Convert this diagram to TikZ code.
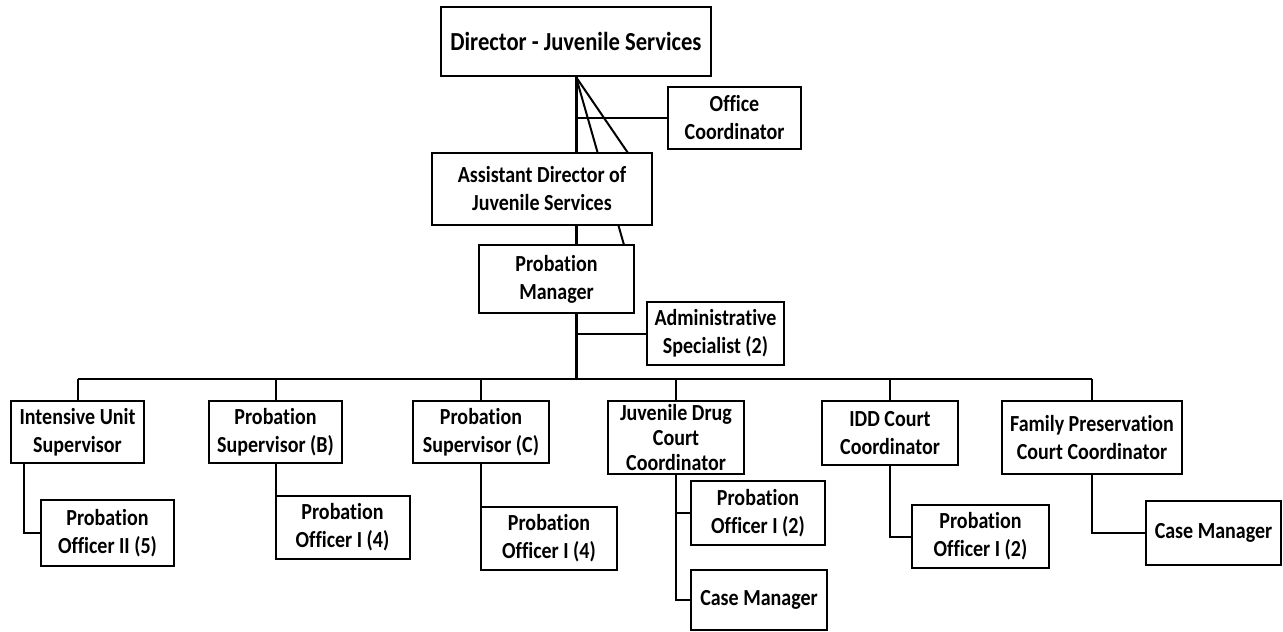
\documentclass[tikz,border=0pt]{standalone}
\usepackage{fontspec}
\setmainfont{Carlito}[FakeStretch=0.87, Ligatures={NoCommon}]
\usetikzlibrary{backgrounds}
\begin{document}
\begin{tikzpicture}[x=1pt,y=-1pt,
  box/.style={draw=black, line width=2pt, fill=white, align=center, inner sep=0pt,
    font=\fontsize{23}{28}\selectfont\bfseries},
  link/.style={line width=2pt, draw=black},
  trunk/.style={line width=3pt, draw=black}]
\useasboundingbox (0,0) rectangle (1283,632);

% top of the chart
\node[box, minimum width=270pt, minimum height=69pt, font=\fontsize{26}{30}\selectfont\bfseries] (dir) at (576,41.5) {Director - Juvenile Services};
\node[box, minimum width=133pt, minimum height=62pt] (office) at (734.5,118) {Office\\Coordinator};
\node[box, minimum width=220pt, minimum height=72pt] (asst) at (542,189) {Assistant Director of\\Juvenile Services};
\node[box, minimum width=155pt, minimum height=68pt] (pm) at (556.5,279) {Probation\\Manager};
\node[box, minimum width=137pt, minimum height=63pt] (admin) at (715.5,333.5) {Administrative\\Specialist (2)};

% units
\node[box, minimum width=133pt, minimum height=62pt] (ius) at (77.5,432) {Intensive Unit\\Supervisor};
\node[box, minimum width=133pt, minimum height=66pt] (poii) at (107.5,533) {Probation\\Officer II (5)};
\node[box, minimum width=133pt, minimum height=62pt] (psb) at (275.5,432) {Probation\\Supervisor (B)};
\node[box, minimum width=134pt, minimum height=63pt] (pob) at (342.5,527.5) {Probation\\Officer I (4)};
\node[box, minimum width=136pt, minimum height=62pt] (psc) at (481,432) {Probation\\Supervisor (C)};
\node[box, minimum width=136pt, minimum height=63pt] (poc) at (549,538.5) {Probation\\Officer I (4)};
\node[box, minimum width=136pt, minimum height=73pt, font=\fontsize{23}{25}\selectfont\bfseries] (jd) at (676,437.5) {Juvenile Drug\\Court\\Coordinator};
\node[box, minimum width=134pt, minimum height=64pt] (poj) at (758,513) {Probation\\Officer I (2)};
\node[box, minimum width=136pt, minimum height=60pt] (cmj) at (759,600) {Case Manager};
\node[box, minimum width=136pt, minimum height=64pt] (idd) at (890,433) {IDD Court\\Coordinator};
\node[box, minimum width=137pt, minimum height=63pt] (poi) at (980.5,536.5) {Probation\\Officer I (2)};
\node[box, minimum width=180pt, minimum height=73pt] (fp) at (1092,437.5) {Family Preservation\\Court Coordinator};
\node[box, minimum width=135pt, minimum height=64pt] (cmf) at (1213.5,533) {Case Manager};

\coordinate (busL) at (ius.north |- 0,379);
\coordinate (busR) at (fp.north |- 0,379);
\coordinate (bus) at (dir.south |- 0,379);
\coordinate (d1) at (624,245);
\coordinate (d2) at (628,153);

\begin{scope}[on background layer]
  % spine from the director down to the bus
  \draw[trunk] (dir.south) -- (bus);
  \draw[link] (dir.south |- office.west) -- (office.west);
  \draw[link] (dir.south) -- (d1);
  \draw[link] (dir.south) -- (d2);
  \draw[link] (dir.south |- admin.west) -- (admin.west);
  \draw[line width=2.5pt] (busL) -- (busR);
  \foreach \n in {ius,psb,psc,jd,idd,fp}
    \draw[link] (\n.north |- bus) -- (\n.north);
  % units to their staff
  \draw[link] ([xshift=14pt]ius.south west) |- (poii.west);
  \draw[link] (psb.south) -- (psb.south |- pob.west);
  \draw[link] (psc.south) -- (psc.south |- poc.west);
  \draw[link] (jd.south) |- (poj.west);
  \draw[link] (jd.south) |- (cmj.west);
  \draw[link] (idd.south) |- (poi.west);
  \draw[link] (fp.south) |- (cmf.west);
\end{scope}
\end{tikzpicture}
\end{document}
